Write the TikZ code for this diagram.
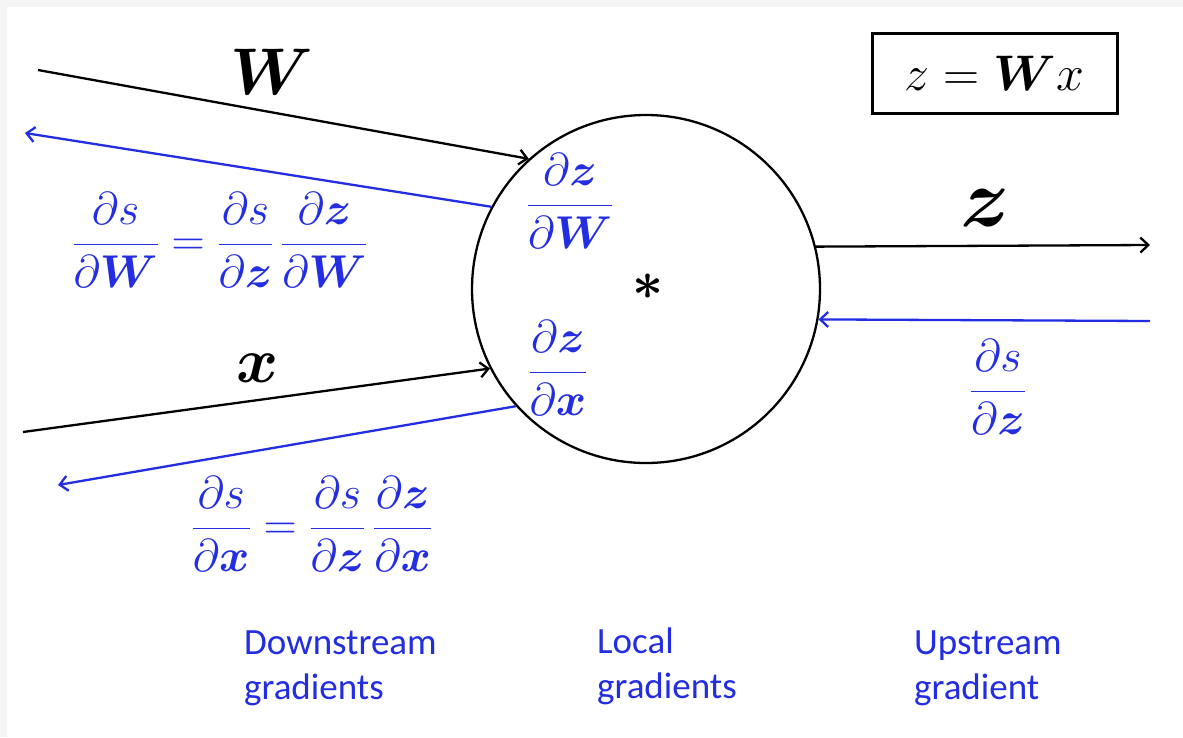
\documentclass[tikz,border=0pt]{standalone}
\usepackage{fix-cm}
\usepackage{amsmath}
\usepackage{bm}
\usepackage{fontspec}
\newfontfamily\labelfont{Carlito}
\usepackage{tikz}
\usetikzlibrary{arrows.meta}

\definecolor{gradblue}{RGB}{35,45,225}

\begin{document}
\begin{tikzpicture}[x=1pt, y=-1pt, line width=2.3pt, >={Straight Barb[length=8pt,width=15pt]},
  fr/.style={text=gradblue, inner sep=0pt, font=\fontsize{46}{50}\selectfont},
  lbl/.style={inner sep=0pt},
  caption/.style={anchor=north west, align=left, inner sep=0pt, text=gradblue,
    font=\labelfont\fontsize{37}{45}\selectfont}]
\useasboundingbox (0,0) rectangle (1183,737);
\fill[black!4] (0,0) rectangle (1183,737);
\fill[white] (7,7) rectangle (1183,737);

% the gate
\node[circle, draw, minimum size=348pt, inner sep=0pt] (gate) at (646,289) {};
\node[lbl, font=\fontsize{54}{54}\selectfont] (op) at (648,287) {$\bm{\ast}$};
\node[draw, line width=3pt, minimum width=245pt, minimum height=80pt, inner sep=0pt,
  font=\fontsize{50}{52}\selectfont] (eq) at (994.5,73) {$z=\bm{W}x$};

% free ends
\coordinate (inW) at (38,70);
\coordinate (outW) at (25,133);
\coordinate (inx) at (23,432);
\coordinate (outx) at (58,485);
\coordinate (outz) at (1150,245);
\coordinate (inz) at (1150,321);

% forward
\draw[->] (inW) -- (gate.132.7);
\draw[->] (inx) -- (gate.207.3);
\draw[->] (gate.14.2) -- (outz);

% backward
\draw[->, gradblue] (gate.152.9) -- (outW);
\draw[->, gradblue] (gate.222.2) -- (outx);
\draw[->, gradblue] (inz) -- (gate.-10.4);

% labels
\node[lbl, font=\fontsize{66}{70}\selectfont] (lW) at (272,72) {$\bm{W}$};
\node[lbl, font=\fontsize{64}{70}\selectfont] (lx) at (258,368) {$\bm{x}$};
\node[lbl, font=\fontsize{83}{90}\selectfont] (lz) at (985,208) {$\bm{z}$};

\node[fr] (dW) at (220,240)
  {$\displaystyle\frac{\partial s}{\partial\bm{W}}=\frac{\partial s}{\partial\bm{z}}\,\frac{\partial\bm{z}}{\partial\bm{W}}$};
\node[fr] (dx) at (312,524)
  {$\displaystyle\frac{\partial s}{\partial\bm{x}}=\frac{\partial s}{\partial\bm{z}}\,\frac{\partial\bm{z}}{\partial\bm{x}}$};
\node[fr] (gW) at (570,201) {$\displaystyle\frac{\partial\bm{z}}{\partial\bm{W}}$};
\node[fr] (gx) at (558,368) {$\displaystyle\frac{\partial\bm{z}}{\partial\bm{x}}$};
\node[fr] (dz) at (998,387) {$\displaystyle\frac{\partial s}{\partial\bm{z}}$};

\node[caption] (down) at (243,630) {Downstream\\gradients};
\node[caption] (local) at (596,627) {Local\\gradients};
\node[caption] (up) at (913,630) {Upstream\\gradient};
\end{tikzpicture}
\end{document}
